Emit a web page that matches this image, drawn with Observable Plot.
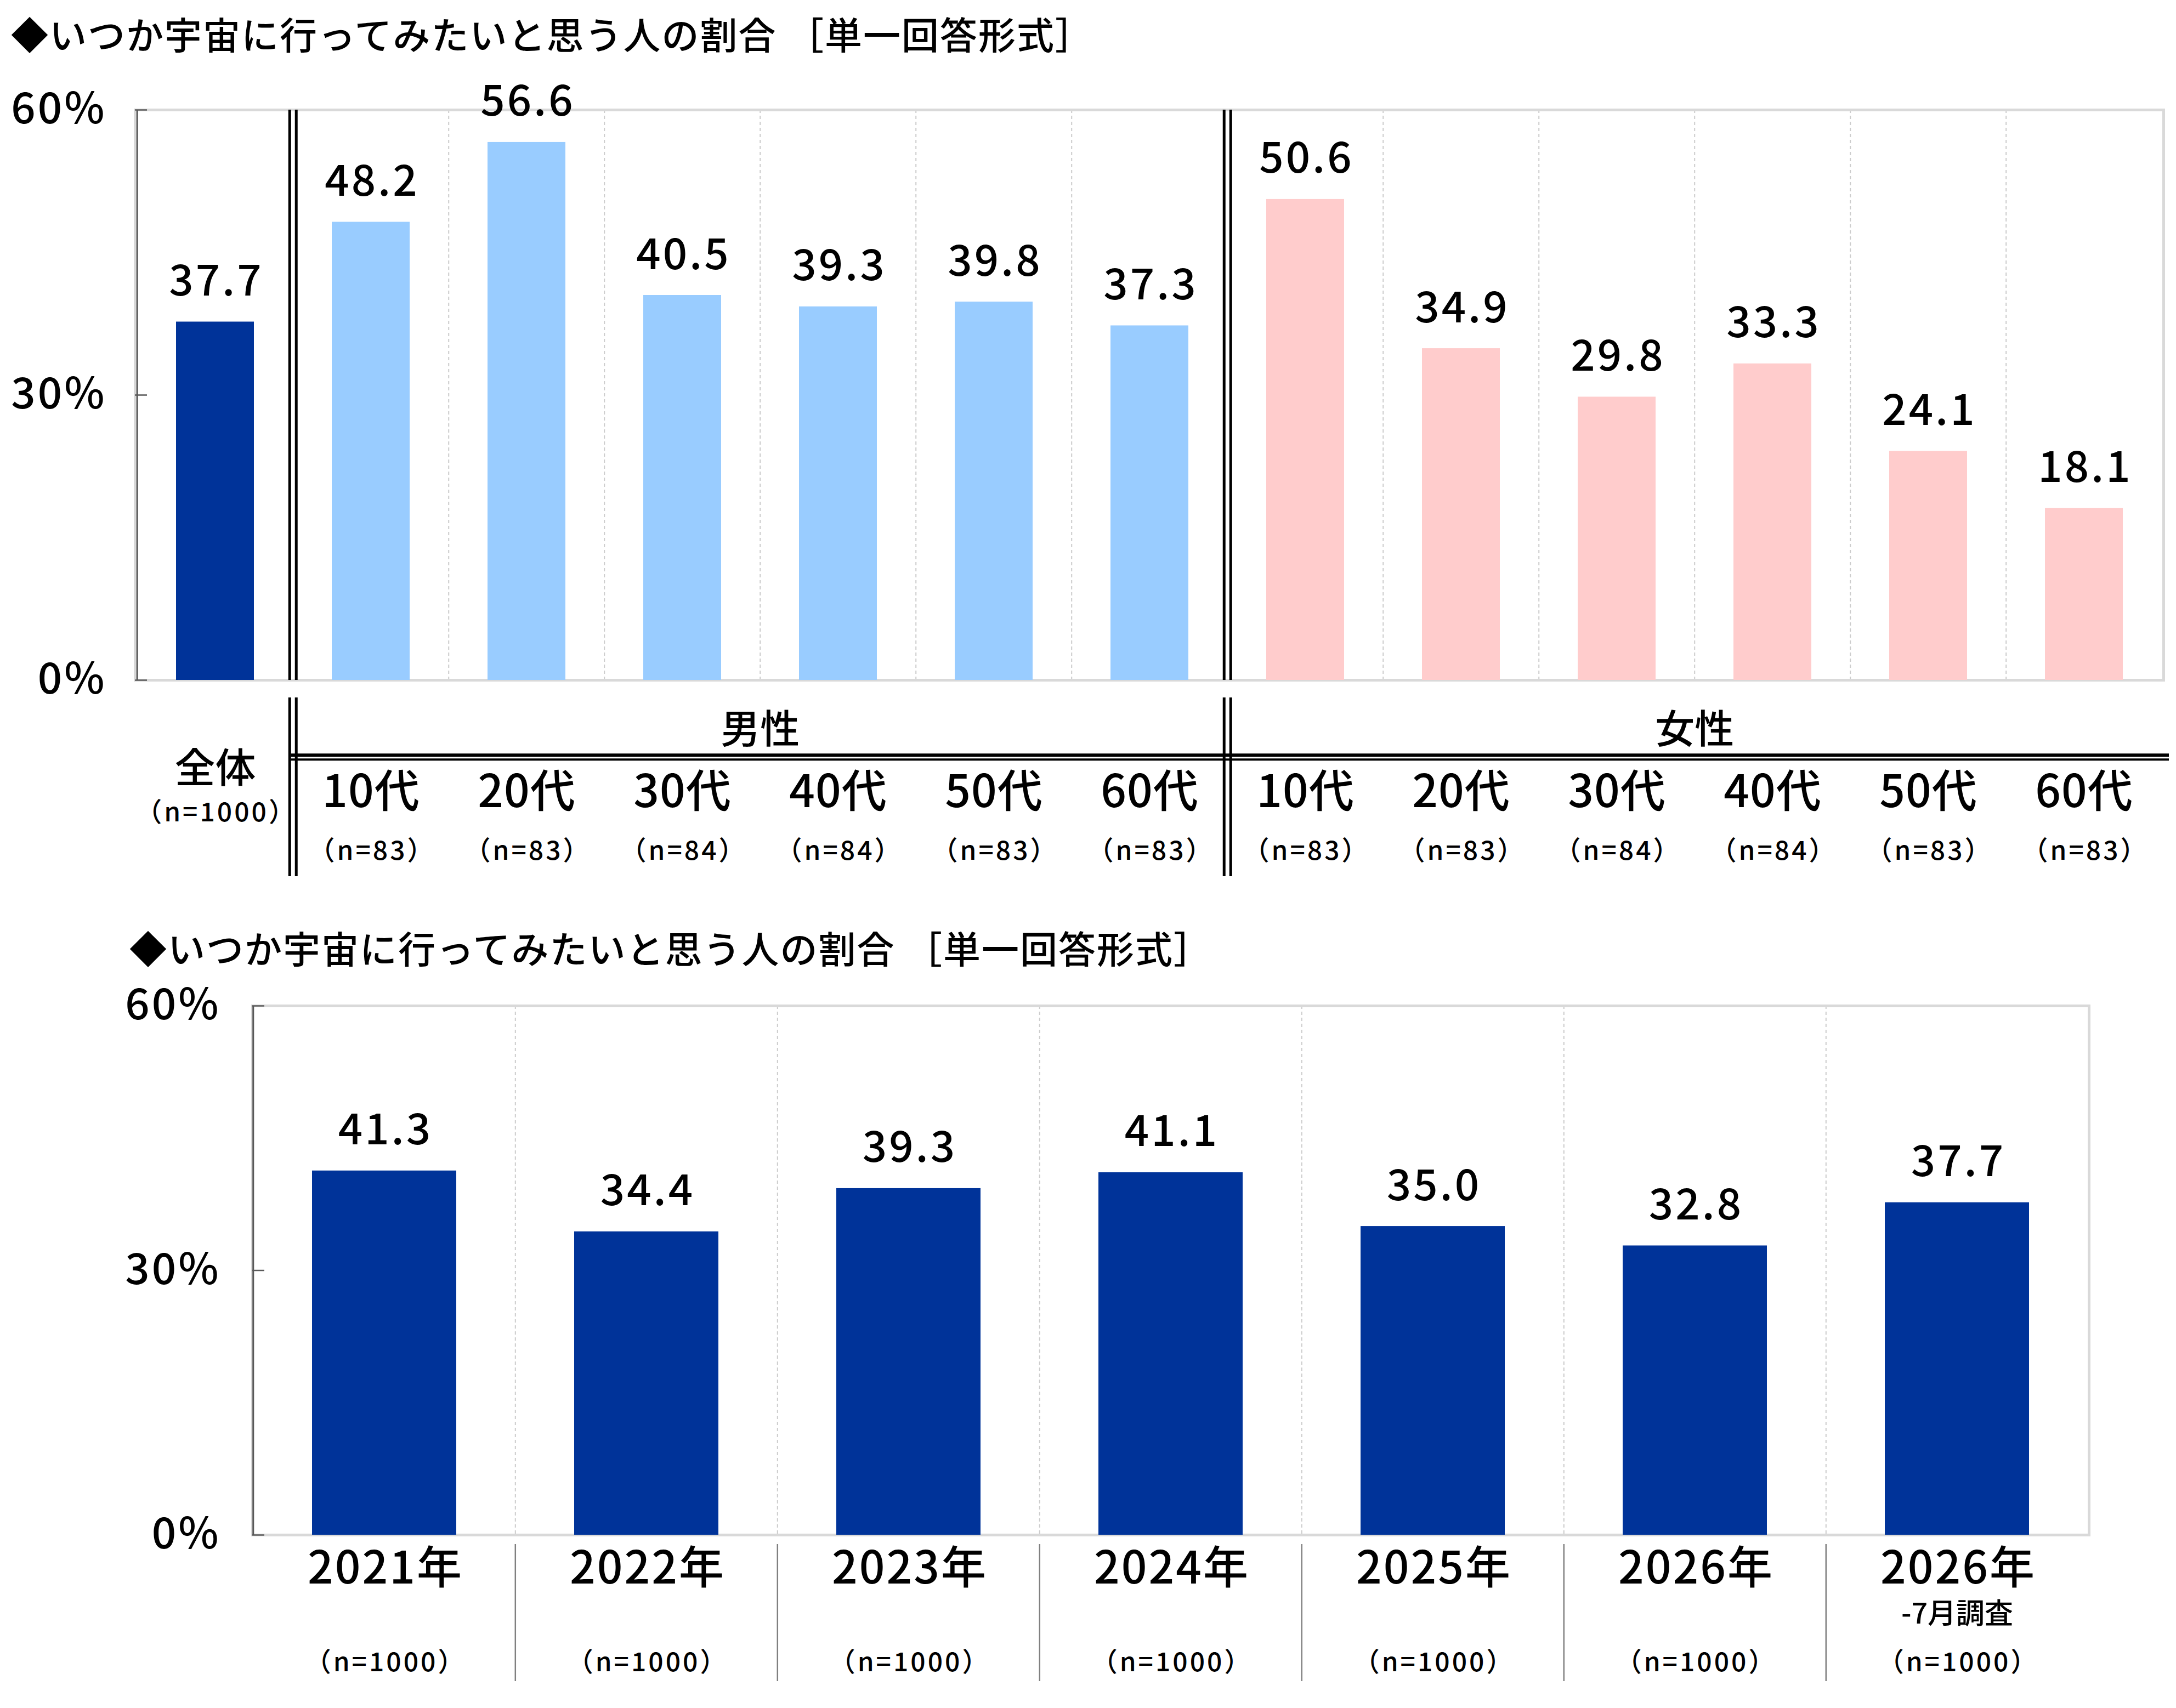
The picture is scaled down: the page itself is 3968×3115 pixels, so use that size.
<!DOCTYPE html>
<html>
<head>
<meta charset="utf-8">
<script src="https://cdn.jsdelivr.net/npm/d3@7"></script>
<script src="https://cdn.jsdelivr.net/npm/@observablehq/plot@0.6"></script>
<style>
  body { margin: 0; background: #fff; width: 3968px; }
  .title { font-family: "Noto Sans CJK JP", sans-serif; font-size: 68px; font-weight: 500; color: #000;
           box-sizing: border-box; white-space: nowrap; line-height: 68px; letter-spacing: 2px; }
  #t1 { height: 130px; padding-top: 27px; padding-left: 20px; }
  #t2 { height: 138px; padding-top: 54px; padding-left: 236px; }
  svg { display: block; }
</style>
</head>
<body>
<div id="t1" class="title"></div>
<div id="c1"></div>
<div id="tb1"></div>
<div id="t2" class="title"></div>
<div id="c2"></div>
<div id="tb2"></div>
<script>
// ---------- data ----------
const titleText = "◆いつか宇宙に行ってみたいと思う人の割合 ［単一回答形式］";

const topCategories = ["全体", "男性10代", "男性20代", "男性30代", "男性40代", "男性50代", "男性60代",
                       "女性10代", "女性20代", "女性30代", "女性40代", "女性50代", "女性60代"];
const topGroups = ["全体", "男性", "男性", "男性", "男性", "男性", "男性",
                   "女性", "女性", "女性", "女性", "女性", "女性"];
const topAges = ["全体", "10代", "20代", "30代", "40代", "50代", "60代",
                 "10代", "20代", "30代", "40代", "50代", "60代"];
const topValues = [37.7, 48.2, 56.6, 40.5, 39.3, 39.8, 37.3, 50.6, 34.9, 29.8, 33.3, 24.1, 18.1];
const topCounts = ["（n=1000）", "（n=83）", "（n=83）", "（n=84）", "（n=84）", "（n=83）", "（n=83）",
                   "（n=83）", "（n=83）", "（n=84）", "（n=84）", "（n=83）", "（n=83）"];
const groupNames = ["全体", "男性", "女性"];
const groupColors = ["#003399", "#99CCFF", "#FFCCCC"];

const yearKeys = ["2021", "2022", "2023", "2024", "2025", "2026", "2026-7"];
const yearLabels = ["2021年", "2022年", "2023年", "2024年", "2025年", "2026年", "2026年"];
const yearNotes = ["", "", "", "", "", "", "-7月調査"];
const yearValues = [41.3, 34.4, 39.3, 41.1, 35.0, 32.8, 37.7];
const yearCounts = ["（n=1000）", "（n=1000）", "（n=1000）", "（n=1000）", "（n=1000）", "（n=1000）", "（n=1000）"];

const yTicks = [0, 30, 60];

// ---------- layout ----------
const FONT = '"Noto Sans CJK JP", sans-serif';
const W = 3968;
const L1 = 246, R1 = 23;
const step1 = (W - L1 - R1) / topCategories.length;
const L2 = 460, R2 = 159;
const step2 = (W - L2 - R2) / yearKeys.length;
const baseStyle = {fontFamily: FONT, background: "#fff", color: "#000", overflow: "visible", fontWeight: 500};
const numStyle = Object.assign({}, baseStyle, {letterSpacing: "4px"});

function spaceText(svg) {
  d3.select(svg).selectAll("text").each(function () {
    const t = this.textContent;
    if (t.startsWith("（")) this.style.letterSpacing = "4px";
    else if (t.endsWith("年")) this.style.letterSpacing = "3px";
    else if (t.endsWith("代")) this.style.letterSpacing = "1px";
  });
  return svg;
}

document.getElementById("t1").textContent = titleText;
document.getElementById("t2").textContent = titleText;

const topData = topCategories.map((c, i) => ({cat: c, group: topGroups[i], age: topAges[i], value: topValues[i], n: topCounts[i]}));
const dividers = topCategories.filter((c, i) => i > 0 && topGroups[i] !== topGroups[i - 1]);
const innerBounds = topCategories.filter((c, i) => i > 0 && topGroups[i] === topGroups[i - 1]);
const xTop = {type: "band", domain: topCategories, paddingInner: 0.5, paddingOuter: 0.25, axis: null};

// ---------- top chart ----------
const chart1 = Plot.plot({
  width: W, height: 1126, marginTop: 70, marginBottom: 16, marginLeft: L1, marginRight: R1,
  x: xTop,
  y: {domain: [0, 60], axis: null},
  color: {domain: groupNames, range: groupColors},
  style: numStyle,
  marks: [
    Plot.ruleX(innerBounds, {dx: -step1 / 2, stroke: "#cccccc", strokeWidth: 2, strokeDasharray: "6,5"}),
    Plot.frame({stroke: "#d9d9d9", strokeWidth: 5}),
    Plot.barY(topData, {x: "cat", y: "value", fill: "group"}),
    Plot.ruleX([topCategories[0]], {dx: -step1 / 2, stroke: "#595959", strokeWidth: 3}),
    Plot.ruleY(yTicks, {stroke: "#595959", strokeWidth: 2.5, insetRight: (W - L1 - R1) - 22}),
    Plot.text(yTicks, {y: d => d, text: d => d + "%", frameAnchor: "left", textAnchor: "end", dx: -52, fontSize: 78}),
    Plot.ruleX(dividers, {dx: -step1 / 2 - 6, stroke: "#000", strokeWidth: 5}),
    Plot.ruleX(dividers, {dx: -step1 / 2 + 6, stroke: "#000", strokeWidth: 5}),
    Plot.text(topData, {x: "cat", y: "value", text: d => d.value.toFixed(1), lineAnchor: "bottom", dy: -48, dx: 2, fontSize: 78})
  ]
});
document.getElementById("c1").appendChild(chart1);

// ---------- top table ----------
const rows1 = ["group", "age", "n"];
const band1 = 326 / rows1.length;
const groupLabels = groupNames.slice(1).map(g => {
  const members = topData.filter(d => d.group === g);
  return {label: g, cat: members[Math.floor(members.length / 2)].cat};
});
const sub = topData.filter(d => d.group !== "全体");
const total = topData.filter(d => d.group === "全体");
const table1 = Plot.plot({
  width: W, height: 384, marginTop: 16, marginBottom: 42, marginLeft: L1, marginRight: R1,
  x: xTop,
  y: {type: "band", domain: rows1, padding: 0, axis: null},
  style: baseStyle,
  marks: [
    Plot.ruleY(["age"], {dy: -band1 / 2 - 4, stroke: "#000", strokeWidth: 6, insetLeft: step1, insetRight: -10}),
    Plot.ruleY(["age"], {dy: -band1 / 2 + 4, stroke: "#000", strokeWidth: 4, insetLeft: step1, insetRight: -10}),
    Plot.ruleX(dividers, {dx: -step1 / 2 - 6, stroke: "#000", strokeWidth: 5}),
    Plot.ruleX(dividers, {dx: -step1 / 2 + 6, stroke: "#000", strokeWidth: 5}),
    Plot.text(groupLabels, {x: "cat", y: () => "group", text: "label", dx: -step1 / 2, dy: 4, fontSize: 72}),
    Plot.text(sub, {x: "cat", y: () => "age", text: "age", dy: 10, fontSize: 82}),
    Plot.text(sub, {x: "cat", y: () => "n", text: "n", dy: 9, dx: 2, fontSize: 48}),
    Plot.text(total, {x: "cat", y: () => "age", text: "age", dy: -32, fontSize: 74}),
    Plot.text(total, {x: "cat", y: () => "age", text: "n", dy: 47, dx: 2, fontSize: 48})
  ]
});
document.getElementById("tb1").appendChild(spaceText(table1));

// ---------- bottom chart ----------
const yearData = yearKeys.map((k, i) => ({key: k, label: yearLabels[i], note: yearNotes[i], value: yearValues[i], n: yearCounts[i]}));
const xBottom = {type: "band", domain: yearKeys, paddingInner: 0.45, paddingOuter: 0.225, axis: null};
const chart2 = Plot.plot({
  width: W, height: 1027, marginTop: 56, marginBottom: 6, marginLeft: L2, marginRight: R2,
  x: xBottom,
  y: {domain: [0, 60], axis: null},
  style: numStyle,
  marks: [
    Plot.ruleX(yearKeys.slice(1), {dx: -step2 / 2, stroke: "#cccccc", strokeWidth: 2, strokeDasharray: "6,5"}),
    Plot.frame({stroke: "#d9d9d9", strokeWidth: 5}),
    Plot.barY(yearData, {x: "key", y: "value", fill: groupColors[0]}),
    Plot.ruleX([yearKeys[0]], {dx: -step2 / 2, stroke: "#595959", strokeWidth: 3}),
    Plot.ruleY(yTicks, {stroke: "#595959", strokeWidth: 2.5, insetRight: (W - L2 - R2) - 22}),
    Plot.text(yTicks, {y: d => d, text: d => d + "%", frameAnchor: "left", textAnchor: "end", dx: -58, fontSize: 78}),
    Plot.text(yearData, {x: "key", y: "value", text: d => d.value.toFixed(1), lineAnchor: "bottom", dy: -48, dx: 2, fontSize: 78})
  ]
});
document.getElementById("c2").appendChild(chart2);

// ---------- bottom table ----------
const rows2 = ["year", "note", "n"];
const table2 = Plot.plot({
  width: W, height: 310, marginTop: 11, marginBottom: 49, marginLeft: L2, marginRight: R2,
  x: xBottom,
  y: {type: "band", domain: rows2, padding: 0, axis: null},
  style: baseStyle,
  marks: [
    Plot.ruleX(yearKeys.slice(1), {dx: -step2 / 2, stroke: "#808080", strokeWidth: 2.5}),
    Plot.text(yearData, {x: "key", y: () => "year", text: "label", dy: 3, dx: 2, fontSize: 82}),
    Plot.text(yearData.filter(d => d.note), {x: "key", y: () => "note", text: "note", dy: 2, fontSize: 52}),
    Plot.text(yearData, {x: "key", y: () => "n", text: "n", dy: 8, dx: 2, fontSize: 48})
  ]
});
document.getElementById("tb2").appendChild(spaceText(table2));
</script>
</body>
</html>
